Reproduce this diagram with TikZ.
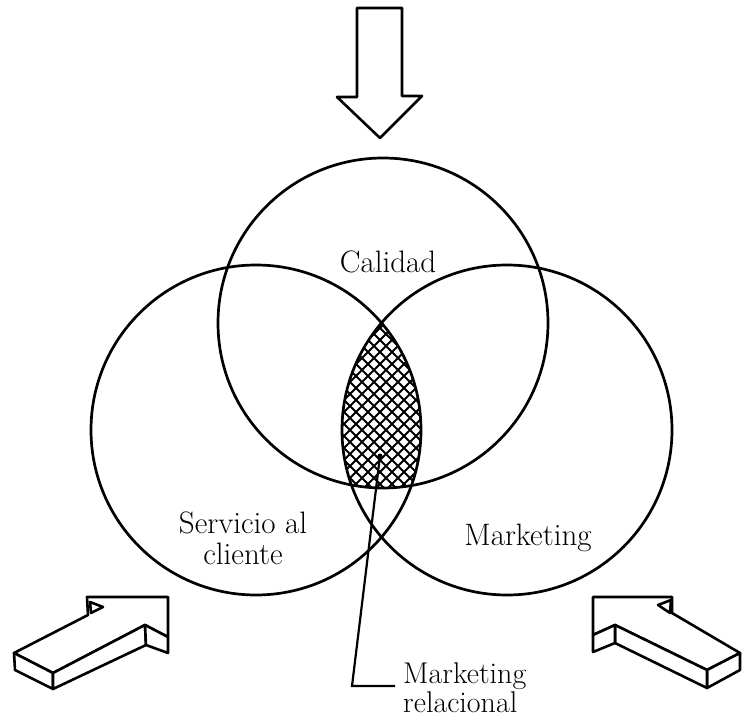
\documentclass[tikz,border=0pt]{standalone}
\begin{document}
\begin{tikzpicture}[x=1pt,y=-1pt,
  ring/.style={circle, draw, line width=2.7pt, minimum size=330pt, inner sep=0pt},
  blockarrow/.style={draw, line width=2.6pt, line join=round, fill=white},
  hatchline/.style={line width=2pt},
  lbl/.style={font=\fontsize{31}{31}\selectfont, inner sep=0pt, align=center},
  leader/.style={line width=2.2pt},
]
\useasboundingbox (0,0) rectangle (742,720);

% hatched triple intersection
\begin{scope}
  \clip (383,323) circle (165pt);
  \clip (256,430) circle (165pt);
  \clip (507,430) circle (165pt);
  \foreach \c in {600,612,...,980} {
    \draw[hatchline] (300,\c-300) -- (470,\c-470);
  }
  \foreach \c in {-200,-188,...,180} {
    \draw[hatchline] (300,300-\c) -- (470,470-\c);
  }
\end{scope}

% circles
\node[ring] (calidad) at (383,323) {};
\node[ring] (servicio) at (256,430) {};
\node[ring] (marketing) at (507,430) {};

% labels
\node[lbl] (tcal) at (388,262) {Calidad};
\node[lbl] (tserv) at (243,538) {Servicio al\\cliente};
\node[lbl] (tmkt) at (528,538) {Marketing};
\node[lbl, font=\fontsize{30}{29}\selectfont, align=left, anchor=north west] (mr) at (403,662) {Marketing\\relacional};

% leader
\coordinate (dot) at (380,456);
\coordinate (bend) at (352,686);
\fill (dot) circle (2.5pt);
\draw[leader] (dot) -- (bend) -- ([xshift=-8pt]mr.west |- bend);

% top arrow
\draw[blockarrow] (357,8) -- (402,8) -- (402,96) -- (422,96) -- (380,138) -- (337,97) -- (357,97) -- cycle;

% bottom-left arrow
\draw[blockarrow] (14,653) -- (88,615) -- (87,597) -- (168,597) -- (168,637) -- (145,625) -- (53,673) -- cycle;
\draw[blockarrow] (14,653) -- (53,673) -- (53,689) -- (15,670) -- cycle;
\draw[blockarrow] (53,673) -- (145,625) -- (146,645) -- (53,689) -- cycle;
\draw[blockarrow] (145,625) -- (168,637) -- (168,653) -- (146,645) -- cycle;
\draw[blockarrow] (90,602) -- (103,607) -- (91,613) -- cycle;

% bottom-right arrow
\draw[blockarrow] (740,653) -- (672,613) -- (672,597) -- (593,597) -- (593,635) -- (615,625) -- (707,670) -- cycle;
\draw[blockarrow] (740,653) -- (707,670) -- (707,688) -- (740,670) -- cycle;
\draw[blockarrow] (707,670) -- (615,625) -- (615,643) -- (707,688) -- cycle;
\draw[blockarrow] (615,625) -- (593,635) -- (593,652) -- (615,643) -- cycle;
\draw[blockarrow] (658,605) -- (671,600) -- (670,613) -- cycle;
\end{tikzpicture}
\end{document}
